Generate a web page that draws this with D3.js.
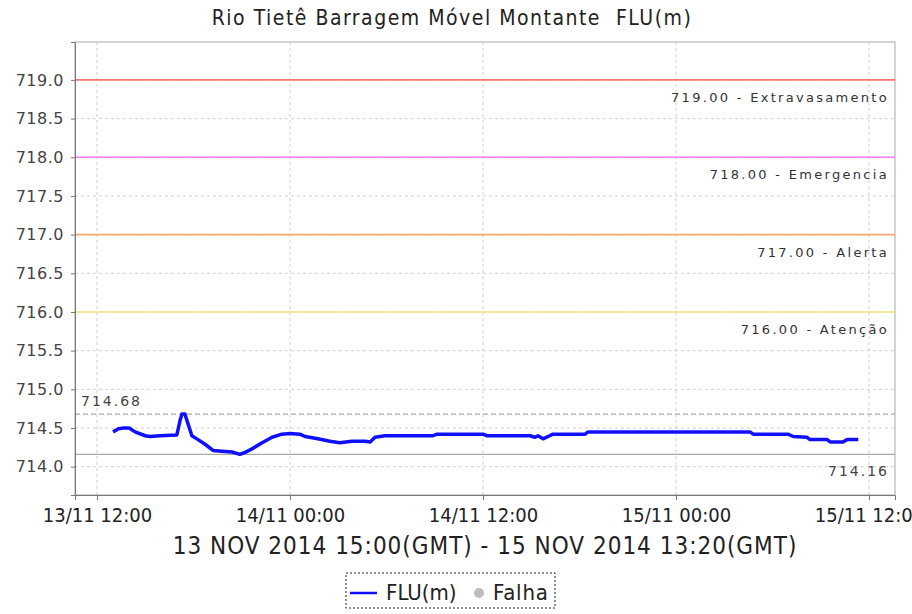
<!DOCTYPE html>
<html>
<head>
<meta charset="utf-8">
<script src="https://cdn.jsdelivr.net/npm/d3@7"></script>
<style>
  body { margin: 0; background: #fff; }
  .cond { font-family: "DejaVu Sans Condensed", "Liberation Sans Narrow", sans-serif; }
  .wide { font-family: "DejaVu Sans", sans-serif; }
</style>
</head>
<body>
<div id="vis"></div>
<script>
// FLU(m) readings, local time (GMT-2)
var fluTimes = [
  "2014-11-13 13:00", "2014-11-13 13:20", "2014-11-13 13:40", "2014-11-13 14:00",
  "2014-11-13 14:22", "2014-11-13 15:00", "2014-11-13 15:18", "2014-11-13 15:55",
  "2014-11-13 16:58", "2014-11-13 17:10", "2014-11-13 17:17", "2014-11-13 17:28",
  "2014-11-13 17:40", "2014-11-13 17:54", "2014-11-13 18:17", "2014-11-13 18:43",
  "2014-11-13 19:13", "2014-11-13 19:46", "2014-11-13 20:24", "2014-11-13 20:53",
  "2014-11-13 21:16", "2014-11-13 21:38", "2014-11-13 22:16", "2014-11-13 22:53",
  "2014-11-13 23:30", "2014-11-14 00:00", "2014-11-14 00:37", "2014-11-14 00:56",
  "2014-11-14 01:44", "2014-11-14 02:29", "2014-11-14 03:06", "2014-11-14 03:51",
  "2014-11-14 04:40", "2014-11-14 04:59", "2014-11-14 05:17", "2014-11-14 05:54",
  "2014-11-14 08:54", "2014-11-14 09:08", "2014-11-14 12:00", "2014-11-14 12:15",
  "2014-11-14 14:55", "2014-11-14 15:14", "2014-11-14 15:25", "2014-11-14 15:44",
  "2014-11-14 16:03", "2014-11-14 16:21", "2014-11-14 18:21", "2014-11-14 18:32",
  "2014-11-15 04:36", "2014-11-15 04:48", "2014-11-15 06:58", "2014-11-15 07:17",
  "2014-11-15 08:09", "2014-11-15 08:20", "2014-11-15 09:24", "2014-11-15 09:35",
  "2014-11-15 10:23", "2014-11-15 10:38", "2014-11-15 11:20"
];
var fluValues = [
  714.45, 714.49, 714.50, 714.50,
  714.45, 714.40, 714.39, 714.40,
  714.41, 714.60, 714.68, 714.68,
  714.55, 714.40, 714.35, 714.29,
  714.21, 714.20, 714.19, 714.16,
  714.19, 714.23, 714.31, 714.38,
  714.42, 714.43, 714.42, 714.39,
  714.36, 714.33, 714.31, 714.33,
  714.33, 714.32, 714.38, 714.40,
  714.40, 714.42, 714.42, 714.40,
  714.40, 714.38, 714.40, 714.36,
  714.39, 714.42, 714.42, 714.45,
  714.45, 714.42, 714.42, 714.39,
  714.38, 714.35, 714.35, 714.32,
  714.32, 714.35, 714.35
];

// alarm levels
var levelValues = [719, 718, 717, 716];
var levelLabels = ["719.00 - Extravasamento", "718.00 - Emergencia", "717.00 - Alerta", "716.00 - Atenção"];
var levelColors = ["#ff7373", "#f97cf9", "#f5a66c", "#f5e37a"];

// max / min markers
var maxValue = 714.68;
var minValue = 714.16;

var yTicks = [714.0, 714.5, 715.0, 715.5, 716.0, 716.5, 717.0, 717.5, 718.0, 718.5, 719.0];
var xDomain = ["2014-11-13 10:38", "2014-11-15 13:37"];

var title = "Rio Tietê Barragem Móvel Montante  FLU(m)";
var xLabel = "13 NOV 2014 15:00(GMT) - 15 NOV 2014 13:20(GMT)";

var width = 912, height = 614;
var margin = { top: 42, right: 17, bottom: 119, left: 75 };
var innerW = width - margin.left - margin.right;
var innerH = height - margin.top - margin.bottom;

var parse = d3.utcParse("%Y-%m-%d %H:%M");
var data = fluTimes.map(function (t, i) { return { t: parse(t), v: fluValues[i] }; });

var x = d3.scaleUtc().domain(xDomain.map(parse)).range([0, innerW]);
var y = d3.scaleLinear().domain([713.634, 719.49]).range([innerH, 0]);

var svg = d3.select("#vis").append("svg")
  .attr("width", width).attr("height", height);

svg.append("text")
  .attr("class", "cond")
  .attr("x", 452).attr("y", 25)
  .attr("text-anchor", "middle")
  .style("font-size", "21px").style("letter-spacing", "1.5px")
  .style("white-space", "pre")
  .attr("fill", "#222")
  .text(title);

var g = svg.append("g")
  .attr("transform", "translate(" + margin.left + "," + margin.top + ")");

// gridlines
var xTicks = x.ticks(d3.utcHour.every(12));
g.selectAll(".vgrid").data(xTicks).enter().append("line")
  .attr("x1", function (d) { return x(d); }).attr("x2", function (d) { return x(d); })
  .attr("y1", 0).attr("y2", innerH)
  .attr("stroke", "#cfcfcf").attr("stroke-dasharray", "3,3");
g.selectAll(".hgrid").data(yTicks).enter().append("line")
  .attr("x1", 0).attr("x2", innerW)
  .attr("y1", function (d) { return y(d); }).attr("y2", function (d) { return y(d); })
  .attr("stroke", "#cfcfcf").attr("stroke-dasharray", "3,3");

// plot frame
g.append("rect")
  .attr("width", innerW).attr("height", innerH)
  .attr("fill", "none").attr("stroke", "#a8a8a8");

// alarm lines
g.selectAll(".level").data(levelValues).enter().append("line")
  .attr("x1", 0).attr("x2", innerW)
  .attr("y1", function (d) { return y(d); }).attr("y2", function (d) { return y(d); })
  .attr("stroke", function (d, i) { return levelColors[i]; })
  .attr("stroke-width", 1.6);
g.selectAll(".level-text").data(levelValues).enter().append("text")
  .attr("class", "wide")
  .attr("x", innerW - 6)
  .attr("y", function (d) { return y(d) + 22; })
  .attr("text-anchor", "end")
  .style("font-size", "13px").style("letter-spacing", "2.3px")
  .attr("fill", "#333")
  .text(function (d, i) { return levelLabels[i]; });

// max / min markers
g.append("line")
  .attr("x1", 0).attr("x2", innerW)
  .attr("y1", y(maxValue)).attr("y2", y(maxValue))
  .attr("stroke", "#aaaaaa").attr("stroke-dasharray", "5,3").attr("stroke-width", 1.2);
g.append("line")
  .attr("x1", 0).attr("x2", innerW)
  .attr("y1", y(minValue)).attr("y2", y(minValue))
  .attr("stroke", "#aaaaaa").attr("stroke-width", 1.2);
g.append("text")
  .attr("class", "wide")
  .attr("x", 6).attr("y", y(maxValue) - 8)
  .style("font-size", "14px").style("letter-spacing", "2px").attr("fill", "#444")
  .text(maxValue.toFixed(2));
g.append("text")
  .attr("class", "wide")
  .attr("x", innerW - 6).attr("y", y(minValue) + 22)
  .attr("text-anchor", "end")
  .style("font-size", "14px").style("letter-spacing", "2px").attr("fill", "#444")
  .text(minValue.toFixed(2));

// series
var line = d3.line()
  .x(function (d) { return x(d.t); })
  .y(function (d) { return y(d.v); });
g.append("path")
  .datum(data)
  .attr("d", line)
  .attr("fill", "none")
  .attr("stroke", "#1010ff")
  .attr("stroke-width", 3.5)
  .attr("stroke-linejoin", "round");

// axes
var yAxis = d3.axisLeft(y).tickValues(yTicks).tickSize(4).tickFormat(d3.format(".1f"));
var yG = g.append("g").call(yAxis);
yG.select(".domain").attr("stroke", "#777");
yG.selectAll(".tick line").attr("stroke", "#777");
yG.selectAll("text")
  .attr("class", "wide")
  .style("font-size", "16px").style("letter-spacing", "0.5px")
  .attr("fill", "#444").attr("dx", "-4");

var xAxis = d3.axisBottom(x).tickValues(xTicks).tickSize(5)
  .tickFormat(d3.utcFormat("%d/%m %H:%M"));
var xG = g.append("g").attr("transform", "translate(0," + innerH + ")").call(xAxis);
xG.select(".domain").attr("stroke", "#777");
xG.selectAll(".tick line").attr("stroke", "#777");
xG.selectAll("text")
  .attr("class", "cond")
  .style("font-size", "20px").attr("fill", "#222").attr("dy", "0.95em");

svg.append("text")
  .attr("class", "cond")
  .attr("x", 485).attr("y", 554)
  .attr("text-anchor", "middle")
  .style("font-size", "24px").style("letter-spacing", "1px")
  .attr("fill", "#222")
  .text(xLabel);

// legend
var leg = svg.append("g").attr("transform", "translate(346,573)");
leg.append("rect")
  .attr("width", 209).attr("height", 35)
  .attr("fill", "none").attr("stroke", "#222")
  .attr("stroke-dasharray", "2,2");
leg.append("line")
  .attr("x1", 4).attr("x2", 31).attr("y1", 20).attr("y2", 20)
  .attr("stroke", "#1010ff").attr("stroke-width", 2.5);
leg.append("text")
  .attr("class", "cond")
  .attr("x", 40).attr("y", 27)
  .style("font-size", "22px").attr("fill", "#222")
  .text("FLU(m)");
leg.append("circle")
  .attr("cx", 133).attr("cy", 20).attr("r", 5)
  .attr("fill", "#bdbdbd");
leg.append("text")
  .attr("class", "cond")
  .attr("x", 147).attr("y", 27)
  .style("font-size", "22px").style("letter-spacing", "0.8px")
  .attr("fill", "#222")
  .text("Falha");
</script>
</body>
</html>
